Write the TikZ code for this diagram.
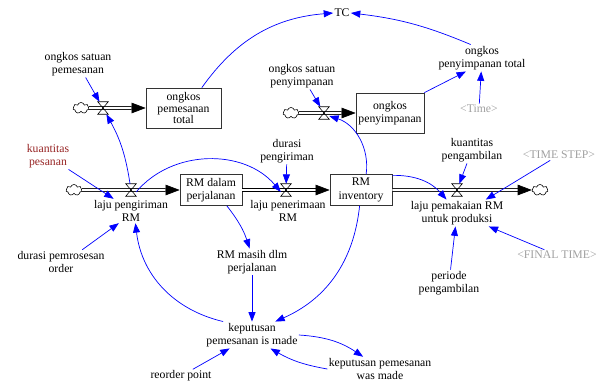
\documentclass[tikz,border=0pt]{standalone}
\usepackage{fontspec}
\setmainfont{Liberation Serif}
\usetikzlibrary{arrows.meta,shapes.symbols}
\definecolor{linkblue}{RGB}{0,0,255}
\definecolor{shadowgray}{RGB}{160,160,160}
\definecolor{inputred}{RGB}{150,35,35}
\begin{document}
\begin{tikzpicture}[x=0.03cm, y=-0.03cm,
  stock/.style={draw=black!80, line width=0.6pt, align=center, inner sep=1pt, font=\fontsize{10}{11.5}\selectfont},
  aux/.style={align=center, inner sep=1pt, font=\fontsize{10}{11.5}\selectfont},
  shadow/.style={aux, text=shadowgray},
  valve/.style={minimum width=0.3cm, minimum height=0.36cm, inner sep=0pt},
  source/.style={cloud, cloud puffs=7, aspect=1.5, draw, fill=white, minimum width=0.48cm, minimum height=0.33cm, inner sep=0pt, line width=0.5pt},
  pipe/.style={draw=black, line width=0.5pt, double=white, double distance=2pt, -{Triangle[length=12pt,width=9pt]}},
  link/.style={draw=linkblue, line width=0.6pt, -{Triangle[length=8pt,width=6pt]}}]
\useasboundingbox (0,0) rectangle (610,385);
% Stocks
\node[stock, minimum width=2.25cm, minimum height=1.2cm, font=\fontsize{10}{9.5}\selectfont] (opt) at (183.5,108) {ongkos\\pemesanan\\total};
\node[stock, minimum width=2.04cm, minimum height=1.2cm] (op) at (390,113) {ongkos\\penyimpanan};
\node[stock, minimum width=1.86cm, minimum height=0.93cm] (rmp) at (211,190) {RM dalam\\perjalanan};
\node[stock, minimum width=1.86cm, minimum height=0.93cm] (rmi) at (361,190) {RM\\inventory};
% Clouds
\node[source] (c1) at (81,108) {};
\node[source] (c2) at (291,113) {};
\node[source] (c3) at (74,190) {};
\node[source] (c4) at (540,190) {};
% Valves
\node[valve] (v1) at (103,108) {};
\node[valve] (v2) at (324,113) {};
\node[valve] (v3) at (131,190) {};
\node[valve] (v4) at (286,190) {};
\node[valve] (v5) at (457,190) {};
% Pipes
\draw[pipe] (c1) -- (opt);
\draw[pipe] (c2) -- (op);
\draw[pipe] (c3) -- (rmp);
\draw[pipe] (rmp) -- (rmi);
\draw[pipe] (rmi) -- (c4);
\foreach \v in {v1,v2,v3,v4,v5}
  \draw[line width=0.5pt] (\v.north west) -- (\v.north east) -- (\v.south west) -- (\v.south east) -- cycle;
% Flow labels
\node[aux] (lpg) at (131,211) {laju pengiriman\\RM};
\node[aux] (lpn) at (288,211) {laju penerimaan\\RM};
\node[aux] (lpk) at (457,213) {laju pemakaian RM\\untuk produksi};
% Variables
\node[aux] (tc) at (342,13) {TC};
\node[aux] (osp) at (78,64) {ongkos satuan\\pemesanan};
\node[aux] (osy) at (302,76) {ongkos satuan\\penyimpanan};
\node[aux] (opy) at (482,58) {ongkos\\penyimpanan total};
\node[shadow] (time) at (479,109) {<Time>};
\node[aux] (dp) at (287,151) {durasi\\pengiriman};
\node[aux, text=inputred] (kp) at (48,156) {kuantitas\\pesanan};
\node[aux] (kam) at (472,150) {kuantitas\\pengambilan};
\node[shadow] (ts) at (559,155) {<TIME STEP>};
\node[shadow] (ft) at (557,255) {<FINAL TIME>};
\node[aux] (pp) at (449,283) {periode\\pengambilan};
\node[aux] (dpo) at (61,262) {durasi pemrosesan\\order};
\node[aux] (rmm) at (252,262) {RM masih dlm\\perjalanan};
\node[aux] (kim) at (252,335) {keputusan\\pemesanan is made};
\node[aux] (kwm) at (380,369) {keputusan pemesanan\\was made};
\node[aux] (rp) at (181,376) {reorder point};
% Links
\draw[link] (opt.48) to[bend left=25] (tc.west);
\draw[link] (opy.130) to[bend right=8] (tc.east);
\draw[link] (op.north east) -- (opy.220);
\draw[link] (time) -- (opy);
\draw[link] (osp) -- (v1);
\draw[link] (v3) to[bend right=10] (v1);
\draw[link] (osy) -- (v2);
\draw[link] (rmi.72) to[bend right=40] (v2.-30);
\draw[link] (kp) -- (lpg.145);
\draw[link] (v3.-20) to[bend left=50] (v4.200);
\draw[link] (dp) -- (v4);
\draw[link] (rmp.-45) to[bend left=10] (rmm.100);
\draw[link] (dpo.30) -- (lpg.225);
\draw[link] (kim.155) to[bend left=35] (lpg.-70);
\draw[link] (rmm) -- (kim);
\draw[link] (rmi.-95) to[bend left=30] (kim.30);
\draw[link] (rmi.25) to[bend left=25] (lpk.128);
\draw[link] (kam) -- (v5);
\draw[link] (ts) -- (lpk.25);
\draw[link] (ft) -- (lpk.-23);
\draw[link] (pp) -- (lpk);
\draw[link] (rp) -- (kim.211);
\draw[link] (kim.east) to[bend left=15] (kwm.144);
\draw[link] (kwm.west) to[bend left=10] (kim.-36);
\end{tikzpicture}
\end{document}
